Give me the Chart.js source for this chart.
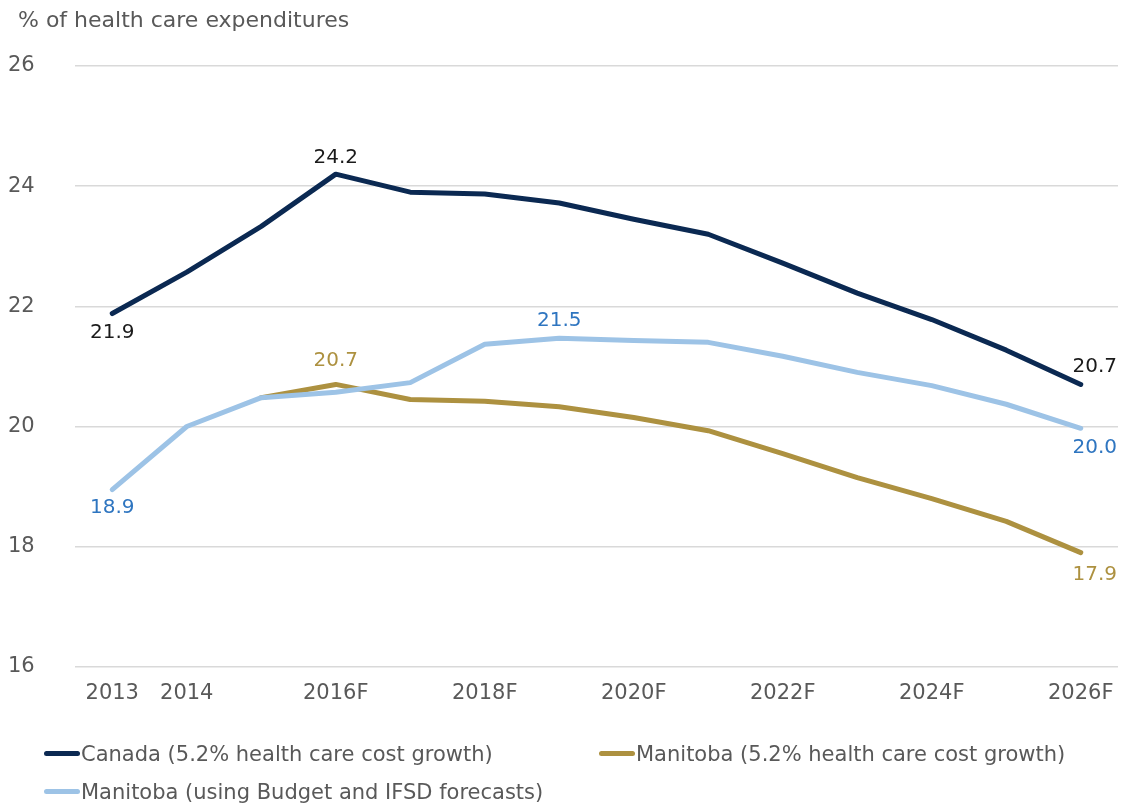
<!DOCTYPE html>
<html>
<head>
<meta charset="utf-8">
<script src="https://cdn.jsdelivr.net/npm/chart.js@4"></script>
<style>
  html, body { margin: 0; padding: 0; background: #fff; }
  #wrap { position: relative; width: 1123px; height: 805px; font-family: "DejaVu Sans", sans-serif; color: #595959; }
  #title { position: absolute; left: 18px; top: 7px; font-size: 22px; }
  .legend-item { position: absolute; font-size: 21px; white-space: nowrap; }
  .legend-item span { display: inline-block; width: 36px; height: 5px; border-radius: 3px; vertical-align: middle; margin-right: 1px; position: relative; top: -2px; }
</style>
</head>
<body>
<div id="wrap">
  <canvas id="chart" width="1123" height="805"></canvas>
  <div id="title">% of health care expenditures</div>
  <div id="legend"></div>
</div>
<script>
// years shown on the axis (only every other forecast year is labelled)
const years = ['2013', '2014', '', '2016F', '', '2018F', '', '2020F', '', '2022F', '', '2024F', '', '2026F'];

const canadaValues = [21.88, 22.57, 23.33, 24.2, 23.9, 23.87, 23.72, 23.45, 23.2, 22.72, 22.22, 21.78, 21.27, 20.7];
const manitobaValues = [null, null, 20.48, 20.7, 20.45, 20.42, 20.33, 20.15, 19.93, 19.55, 19.15, 18.8, 18.42, 17.9];
const manitobaBudgetValues = [18.95, 20.0, 20.48, 20.57, 20.73, 21.37, 21.47, 21.43, 21.4, 21.17, 20.9, 20.68, 20.37, 19.97];

const seriesNames = [
    'Canada (5.2% health care cost growth)',
    'Manitoba (5.2% health care cost growth)',
    'Manitoba (using Budget and IFSD forecasts)'
];
const lineColors = ['#0b2952', '#ad9140', '#9dc3e6'];
const labelColors = ['#1a1a1a', '#ad9140', '#2e75c0'];

// which points get a value label, and where the text goes relative to the point
const pointLabels = [
    [{i: 0, dx: 0, dy: 19}, {i: 3, dx: 0, dy: -16}, {i: 13, dx: 14, dy: -18}],
    [{i: 3, dx: 0, dy: -24}, {i: 13, dx: 14, dy: 22}],
    [{i: 0, dx: 0, dy: 18}, {i: 6, dx: 0, dy: -17}, {i: 13, dx: 14, dy: 20}]
];

const valueLabelPlugin = {
    id: 'valueLabels',
    afterDatasetsDraw(chart) {
        const ctx = chart.ctx;
        ctx.save();
        ctx.font = '20px "DejaVu Sans"';
        ctx.textAlign = 'center';
        ctx.textBaseline = 'middle';
        pointLabels.forEach(function(list, d) {
            const meta = chart.getDatasetMeta(d);
            list.forEach(function(l) {
                const pt = meta.data[l.i];
                const v = chart.data.datasets[d].data[l.i];
                ctx.fillStyle = labelColors[d];
                ctx.fillText(v.toFixed(1), pt.x + l.dx, pt.y + l.dy);
            });
        });
        ctx.restore();
    }
};

const data = {
    labels: years,
    datasets: [
        {label: seriesNames[0], data: canadaValues, borderColor: lineColors[0], order: 0},
        {label: seriesNames[1], data: manitobaValues, borderColor: lineColors[1], order: 2},
        {label: seriesNames[2], data: manitobaBudgetValues, borderColor: lineColors[2], order: 1}
    ]
};
data.datasets.forEach(function(ds) {
    ds.borderWidth = 5;
    ds.pointRadius = 0;
    ds.tension = 0;
    ds.fill = false;
    ds.borderCapStyle = 'round';
    ds.borderJoinStyle = 'round';
});

const config = {
    type: 'line',
    data: data,
    options: {
        responsive: false,
        animation: false,
        layout: {padding: {top: 66, left: 8, right: 5, bottom: 93}},
        plugins: {
            legend: {display: false},
            tooltip: {enabled: false}
        },
        scales: {
            x: {
                offset: true,
                grid: {display: false},
                border: {display: false},
                ticks: {
                    autoSkip: false,
                    maxRotation: 0,
                    padding: 6,
                    color: '#595959',
                    font: {family: 'DejaVu Sans', size: 21}
                }
            },
            y: {
                min: 16,
                max: 26,
                ticks: {
                    stepSize: 2,
                    crossAlign: 'far',
                    color: '#595959',
                    font: {family: 'DejaVu Sans', size: 21}
                },
                grid: {color: '#d9d9d9', lineWidth: 1.5, drawTicks: false},
                border: {display: false},
                afterFit: function(scale) { scale.width = 67; }
            }
        }
    },
    plugins: [valueLabelPlugin]
};

const chart = new Chart(document.getElementById('chart'), config);

// legend laid out like the original: two columns, third entry on a new row
const legendSpots = [[44, 742], [599, 742], [44, 780]];
const legend = document.getElementById('legend');
seriesNames.forEach(function(name, k) {
    const item = document.createElement('div');
    item.className = 'legend-item';
    item.style.left = legendSpots[k][0] + 'px';
    item.style.top = legendSpots[k][1] + 'px';
    item.innerHTML = '<span style="background:' + lineColors[k] + '"></span>' + name;
    legend.appendChild(item);
});
</script>
</body>
</html>
